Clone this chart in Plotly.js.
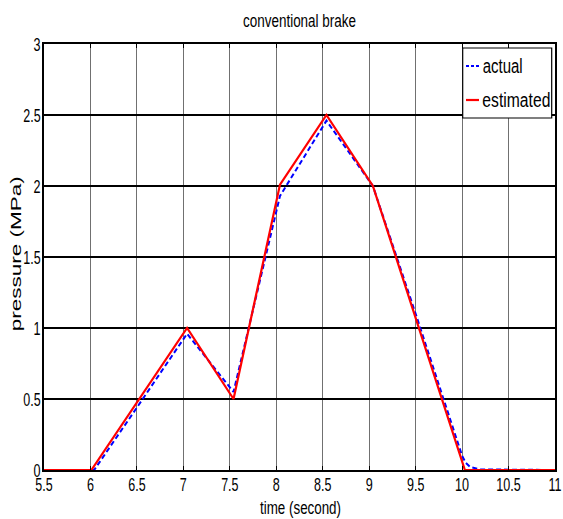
<!DOCTYPE html>
<html><head><meta charset="utf-8">
<script src="https://cdn.plot.ly/plotly-3.0.1.min.js"></script>
<style>body{margin:0;background:#fff}#c{width:563px;height:519px}</style>
</head><body><div id="c"></div>
<script>
const actualT = [5.5, 6.04, 6.5, 7.04, 7.54, 8.04, 8.54, 9.04, 9.5, 10.0, 10.04, 10.09, 10.2, 11];
const actualP = [0, 0, 0.44, 0.96, 0.55, 1.93, 2.46, 2.0, 1.1, 0.1, 0.05, 0.02, 0.004, 0];
const estT = [5.5, 6.01, 7.04, 7.54, 8.04, 8.54, 9.04, 10.03, 11];
const estP = [0, 0, 1.0, 0.5, 2.01, 2.5, 2.0, 0, 0];
const xTicks = [5.5, 6, 6.5, 7, 7.5, 8, 8.5, 9, 9.5, 10, 10.5, 11];
const xTickText = ["5.5","6","6.5","7","7.5","8","8.5","9","9.5","10","10.5","11"];
const yTicks = [0, 0.5, 1, 1.5, 2, 2.5, 3];
const yTickText = ["0","0.5","1","1.5","2","2.5","3"];
const seriesNames = ["actual", "estimated"];
const seriesColors = ["#0000ff", "#ff0000"];

const F = "Liberation Sans, Arial, sans-serif";
const W = 563, H = 519, L = 44, R = 8, T = 44, B = 49;
const pw = W - L - R, ph = H - T - B;
const px = v => (v - L) / pw;          // pixel -> paper x
const py = v => (H - B - v) / ph;      // pixel -> paper y

const traces = [
  {x: actualT, y: actualP, type: 'scatter', mode: 'lines', name: seriesNames[0],
   line: {color: seriesColors[0], width: 2, dash: '5px,3px'}},
  {x: estT, y: estP, type: 'scatter', mode: 'lines', name: seriesNames[1],
   line: {color: seriesColors[1], width: 2.2}}
];
const axBase = {
  showline: true, linecolor: '#000', linewidth: 1.6, mirror: 'ticks',
  ticks: 'inside', ticklen: 4, tickcolor: '#000', tickwidth: 1,
  showgrid: true, gridwidth: 1.1, zeroline: false,
  tickfont: {family: F, size: 19, color: '#000'}
};
const layout = {
  width: W, height: H,
  margin: {l: L, r: R, t: T, b: B},
  paper_bgcolor: '#fff', plot_bgcolor: '#fff',
  title: {text: 'conventional brake', xref: 'paper', x: 0.5, xanchor: 'center',
          yref: 'container', y: 1 - 21 / H, yanchor: 'middle',
          font: {family: F, size: 17.5, color: '#000'}},
  xaxis: Object.assign({}, axBase, {
    range: [5.5, 11], tickvals: xTicks, ticktext: xTickText, gridcolor: '#707070',
    ticklabeloverflow: 'allow'
  }),
  yaxis: Object.assign({}, axBase, {
    range: [0, 3], tickvals: yTicks, ticktext: yTickText, gridcolor: '#000'
  }),
  showlegend: false,
  shapes: [
    {type: 'rect', xref: 'paper', yref: 'paper', x0: px(462.7), x1: px(551.7), y0: py(118), y1: py(48),
     fillcolor: '#fff', line: {color: '#000', width: 1.2}, layer: 'above'},
    {type: 'line', xref: 'paper', yref: 'paper', x0: px(466), x1: px(479), y0: py(66), y1: py(66),
     line: {color: seriesColors[0], width: 2, dash: '3px,2px'}},
    {type: 'line', xref: 'paper', yref: 'paper', x0: px(466), x1: px(479), y0: py(100), y1: py(100),
     line: {color: seriesColors[1], width: 2.2}}
  ],
  annotations: [
    {text: seriesNames[0], xref: 'paper', yref: 'paper', x: px(502), y: py(66), xanchor: 'center', yanchor: 'middle',
     showarrow: false, font: {family: F, size: 20, color: '#000'}},
    {text: seriesNames[1], xref: 'paper', yref: 'paper', x: px(516), y: py(100), xanchor: 'center', yanchor: 'middle',
     showarrow: false, font: {family: F, size: 20, color: '#000'}},
    {text: 'time (second)', xref: 'paper', yref: 'paper', x: px(300.5), y: py(508), xanchor: 'center', yanchor: 'middle',
     showarrow: false, font: {family: F, size: 18, color: '#000'}},
    {text: 'pressure (MPa)', xref: 'paper', yref: 'paper', x: px(15.5), y: py(254.5), xanchor: 'center', yanchor: 'middle',
     textangle: -90, showarrow: false, font: {family: F, size: 14, color: '#000'}}
  ]
};

// target widths (px) of texts in the reference, which uses a narrow face
const textWidths = {'conventional brake': 113, 'time (second)': 81, 'pressure (MPa)': 155, 'actual': 40, 'estimated': 68};
const tickSqueeze = 0.66;

Plotly.newPlot('c', traces, layout, {staticPlot: true}).then(gd => {
  gd.querySelectorAll('.xtick text, .ytick text').forEach(t => {
    const w = t.getComputedTextLength();
    t.setAttribute('textLength', (w * tickSqueeze).toFixed(1));
    t.setAttribute('lengthAdjust', 'spacingAndGlyphs');
  });
  // nudge tick labels to the reference's positions
  gd.querySelectorAll('.xtick text').forEach(t => {
    const y = parseFloat(t.getAttribute('y')) || 0;
    t.setAttribute('y', y - 3);
  });
  gd.querySelectorAll('.ytick text').forEach(t => {
    const x = parseFloat(t.getAttribute('x')) || 0;
    t.setAttribute('x', x + 2);
  });
  gd.querySelectorAll('.gtitle, .annotation-text').forEach(t => {
    const s = t.textContent;
    if (textWidths[s]) {
      t.setAttribute('textLength', textWidths[s]);
      t.setAttribute('lengthAdjust', 'spacingAndGlyphs');
    }
  });
});
</script></body></html>
